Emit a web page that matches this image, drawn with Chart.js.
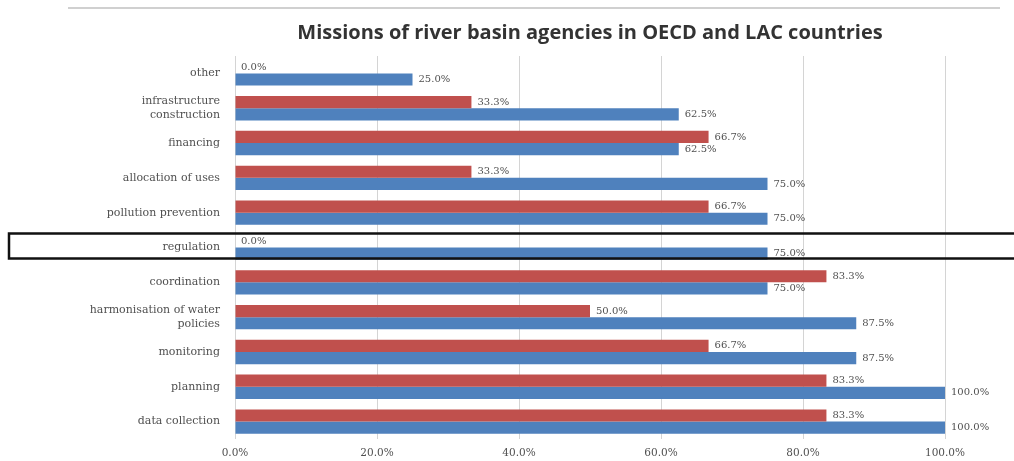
<!DOCTYPE html>
<html>
<head>
<meta charset="utf-8">
<title>Missions of river basin agencies</title>
<script src="https://cdn.jsdelivr.net/npm/chart.js@4"></script>
<style>
  html, body { margin: 0; padding: 0; background: #fff; }
  #wrap { position: relative; width: 1014px; height: 461px; }
</style>
</head>
<body>
<div id="wrap"><canvas id="chart" width="1014" height="461"></canvas></div>
<script>
// Categories, top to bottom as drawn
const categories = [
  'other',
  ['infrastructure', 'construction'],
  'financing',
  'allocation of uses',
  'pollution prevention',
  'regulation',
  'coordination',
  ['harmonisation of water', 'policies'],
  'monitoring',
  'planning',
  'data collection'
];

// LAC agencies (red), percent
const lacValues = [0.0, 33.3, 66.7, 33.3, 66.7, 0.0, 83.3, 50.0, 66.7, 83.3, 83.3];
// OECD agencies (blue), percent
const oecdValues = [25.0, 62.5, 62.5, 75.0, 75.0, 75.0, 75.0, 87.5, 87.5, 100.0, 100.0];

const xTicks = [0, 20, 40, 60, 80, 100];
const highlightIndex = 5; // 'regulation' is boxed in the original

const RED = '#C0504D';
const BLUE = '#4F81BD';
const SMALL_FONT = '"DejaVu Serif", serif';

// Value labels at the end of each bar
const barLabels = {
  id: 'barLabels',
  afterDatasetsDraw(chart) {
    const ctx = chart.ctx;
    ctx.save();
    ctx.font = '10px ' + SMALL_FONT;
    ctx.fillStyle = '#505050';
    ctx.textAlign = 'left';
    ctx.textBaseline = 'middle';
    chart.data.datasets.forEach((ds, di) => {
      chart.getDatasetMeta(di).data.forEach((bar, i) => {
        ctx.fillText(ds.data[i].toFixed(1) + '%', bar.x + 6, bar.y);
      });
    });
    ctx.restore();
  }
};

// Page decorations: grey rule above the title, black box round one row
const decorations = {
  id: 'decorations',
  afterDraw(chart) {
    const ctx = chart.ctx;
    ctx.save();
    ctx.strokeStyle = '#d0d0d0';
    ctx.lineWidth = 2;
    ctx.beginPath();
    ctx.moveTo(68, 8);
    ctx.lineTo(1000, 8);
    ctx.stroke();

    const y = chart.scales.y.getPixelForValue(highlightIndex);
    ctx.strokeStyle = '#111';
    ctx.lineWidth = 2.5;
    ctx.strokeRect(9, y - 14, 1020, 25);
    ctx.restore();
  }
};

new Chart(document.getElementById('chart').getContext('2d'), {
  type: 'bar',
  data: {
    labels: categories,
    datasets: [
      { label: 'LAC', data: lacValues, backgroundColor: RED, borderWidth: 0 },
      { label: 'OECD', data: oecdValues, backgroundColor: BLUE, borderWidth: 0 }
    ]
  },
  options: {
    indexAxis: 'y',
    responsive: false,
    animation: false,
    categoryPercentage: 0.7,
    barPercentage: 1.0,
    layout: { padding: { top: 21, right: 69, bottom: 0, left: 0 } },
    plugins: {
      legend: { display: false },
      tooltip: { enabled: false },
      title: {
        display: true,
        fullSize: false,
        text: 'Missions of river basin agencies in OECD and LAC countries',
        color: '#333',
        font: { family: '"Open Sans", sans-serif', size: 20, weight: 'bold' },
        padding: { top: 0, bottom: 11 }
      }
    },
    scales: {
      x: {
        min: 0,
        max: 100,
        afterBuildTicks(scale) { scale.ticks = xTicks.map(v => ({ value: v })); },
        afterFit(scale) { scale.height = 22; },
        grid: { color: '#d4d4d4', drawTicks: false },
        border: { display: false },
        ticks: {
          padding: 8,
          color: '#505050',
          font: { family: SMALL_FONT, size: 10.5 },
          callback: (v) => Number(v).toFixed(1) + '%'
        }
      },
      y: {
        grid: { display: false, drawTicks: false },
        border: { display: false },
        afterFit(scale) { scale.width = 235; },
        ticks: {
          padding: 15,
          color: '#505050',
          font: { family: SMALL_FONT, size: 11 }
        }
      }
    }
  },
  plugins: [barLabels, decorations]
});
</script>
</body>
</html>
